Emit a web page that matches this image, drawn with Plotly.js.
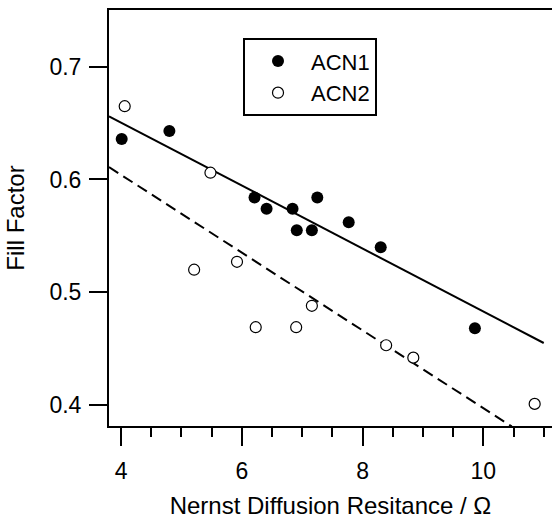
<!DOCTYPE html>
<html>
<head>
<meta charset="utf-8">
<script src="https://cdn.plot.ly/plotly-3.0.1.min.js"></script>
<style>html,body{margin:0;padding:0;background:#fff;}#chart{width:552px;height:520px;}</style>
</head>
<body>
<div id="chart"></div>
<script>
// ACN1 (filled circles)
var acn1X = [4.01, 4.80, 6.21, 6.41, 6.84, 6.91, 7.16, 7.25, 7.77, 8.30, 9.86];
var acn1Y = [0.636, 0.643, 0.584, 0.574, 0.574, 0.555, 0.555, 0.584, 0.562, 0.540, 0.468];
// ACN2 (open circles)
var acn2X = [4.06, 5.21, 5.48, 5.92, 6.23, 6.90, 7.16, 8.39, 8.84, 10.85];
var acn2Y = [0.665, 0.520, 0.606, 0.527, 0.469, 0.469, 0.488, 0.453, 0.442, 0.401];
// Linear fit lines (endpoints)
var fit1X = [3.80, 11.00];
var fit1Y = [0.656, 0.455];
var fit2X = [3.80, 10.47];
var fit2Y = [0.611, 0.381];
var xTicks = [4, 6, 8, 10];
var yTicks = [0.4, 0.5, 0.6, 0.7];

var FONT = 'Liberation Sans, Arial, sans-serif';

var traces = [
  {x: fit1X, y: fit1Y, mode: 'lines', line: {color: '#000', width: 2}, showlegend: false, hoverinfo: 'skip'},
  {x: fit2X, y: fit2Y, mode: 'lines', line: {color: '#000', width: 2, dash: '11px,6px'}, showlegend: false, hoverinfo: 'skip'},
  {x: acn1X, y: acn1Y, mode: 'markers', name: 'ACN1',
   marker: {symbol: 'circle', size: 12, color: '#000', line: {width: 0}}},
  {x: acn2X, y: acn2Y, mode: 'markers', name: 'ACN2',
   marker: {symbol: 'circle', size: 11, color: '#fff', line: {width: 1.2, color: '#000'}}}
];

var layout = {
  width: 552, height: 520,
  margin: {l: 109, r: 0, t: 10, b: 94, pad: 0},
  paper_bgcolor: '#fff', plot_bgcolor: '#fff',
  font: {family: FONT, size: 23, color: '#000'},
  showlegend: true,
  legend: {
    x: 0.3025, y: 0.932, xanchor: 'left', yanchor: 'top',
    bordercolor: '#000', borderwidth: 2, bgcolor: '#fff',
    font: {family: FONT, size: 22, color: '#000'},
    itemwidth: 56, tracegroupgap: 0
  },
  xaxis: {
    range: [3.80, 11.137], autorange: false,
    tickvals: xTicks, ticktext: xTicks.map(String),
    ticks: 'outside', ticklen: 18, tickwidth: 2, tickcolor: '#000',
    minor: {dtick: 0.5, tick0: 0, ticks: 'outside', ticklen: 9, tickwidth: 2, tickcolor: '#000', showgrid: false},
    showline: true, linecolor: '#000', linewidth: 2, mirror: true,
    showgrid: false, zeroline: false,
    tickfont: {family: FONT, size: 23, color: '#000'},
    ticklabelstandoff: 5,
    title: {text: 'Nernst Diffusion Resitance / Ω', font: {family: FONT, size: 24, color: '#000'}, standoff: 15},
    automargin: false
  },
  yaxis: {
    range: [0.3814, 0.7503], autorange: false,
    tickvals: yTicks, ticktext: ['0.4', '0.5', '0.6', '0.7'],
    ticks: 'outside', ticklen: 18, tickwidth: 2, tickcolor: '#000',
    showline: true, linecolor: '#000', linewidth: 2,
    showgrid: false, zeroline: false,
    tickfont: {family: FONT, size: 23, color: '#000'},
    ticklabelstandoff: 3,
    title: {text: 'Fill Factor', font: {family: FONT, size: 24, color: '#000'}, standoff: 18},
    automargin: false
  }
};

Plotly.newPlot('chart', traces, layout, {staticPlot: true, displayModeBar: false});
</script>
</body>
</html>
